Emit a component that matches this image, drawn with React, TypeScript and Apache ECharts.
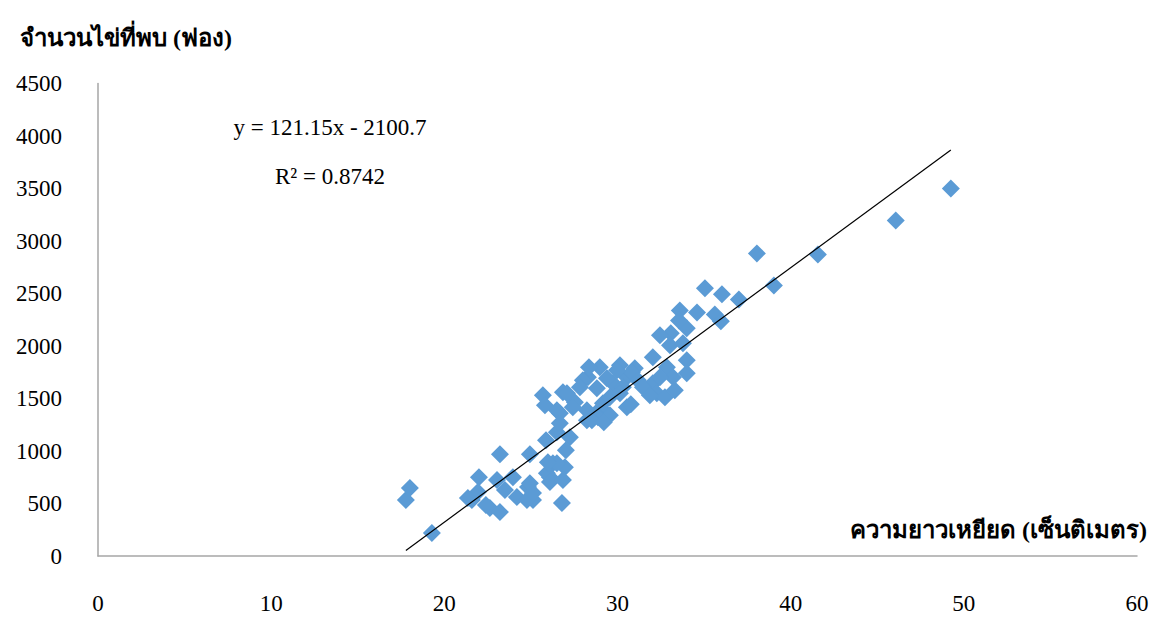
import React, { useEffect, useRef } from "react";
import * as echarts from "echarts";

// Body length (cm) of each specimen
const lengthCm = [
  49.25, 46.07, 41.57, 38.05, 39.03, 37.01, 35.05, 36.03, 35.62, 35.97,
  34.59, 33.6, 34.0, 33.55, 33.08, 32.45, 33.03, 32.04, 34.0, 32.85,
  31.0, 30.54, 34.0, 33.2, 32.04, 32.27, 33.78, 32.45, 32.74, 28.98,
  30.14, 30.83, 28.29, 26.85, 27.54, 29.73, 31.18, 30.54, 29.16, 28.23,
  26.67, 25.69, 25.81, 28.0, 27.42, 28.75, 29.56, 29.16, 26.5, 25.87,
  27.25, 24.94, 27.02, 26.27, 26.96, 26.1, 24.83, 26.79, 25.12, 23.21,
  22.0, 23.04, 21.59, 21.94, 22.63, 23.21, 23.96, 23.5, 24.19, 24.94,
  24.77, 25.12, 25.92, 26.1, 26.5, 26.85, 25.98, 22.4, 17.78, 18.01,
  19.28, 21.36, 29.97, 29.39, 31.47, 30.31, 27.83, 28.81, 29.56, 27.08,
  26.5, 28.23, 28.87, 26.67, 28.52, 29.21, 28.35, 30.14, 31.87, 33.31,
  30.77,
];

// Number of eggs found for each specimen
const eggCount = [
  3500, 3195, 2872, 2882, 2577, 2444, 2549, 2492, 2301, 2235,
  2320, 2339, 2168, 2244, 2121, 2102, 2007, 1892, 1864, 1797,
  1788, 1702, 1740, 1702, 1645, 1550, 2026, 1702, 1512, 1797,
  1816, 1750, 1702, 1560, 1465, 1645, 1674, 1417, 1388, 1293,
  1360, 1531, 1436, 1674, 1417, 1360, 1341, 1455, 1179, 1103,
  1132, 970, 1008, 884, 846, 751, 656, 504, 533, 970,
  751, 723, 533, 609, 456, 418, 751, 628, 561, 694,
  533, 599, 789, 704, 884, 723, 894, 485, 533, 647,
  219, 552, 1769, 1693, 1607, 1607, 1607, 1598, 1512, 1550,
  1388, 1388, 1322, 1265, 1293, 1274, 1797, 1550, 1531, 1579,
  1446,
];

// Linear trend: y = slope * x + intercept
const slope = 121.15;
const intercept = -2100.7;
const rSquared = "0.8742";

const xTicks = { min: 0, max: 60, interval: 10 };
const yTicks = { min: 0, max: 4500, interval: 500 };

const yTitle = "จำนวนไข่ที่พบ (ฟอง)";
const xTitle = "ความยาวเหยียด (เซ็นติเมตร)";

export default function App() {
  const ref = useRef<HTMLDivElement>(null);

  useEffect(() => {
    if (!ref.current) return;
    const chart = echarts.init(ref.current, null, { renderer: "svg" });

    const points = lengthCm.map((x, i) => [x, eggCount[i]]);
    const xMin = Math.min(...lengthCm);
    const xMax = Math.max(...lengthCm);
    const trend = [
      [xMin, slope * xMin + intercept],
      [xMax, slope * xMax + intercept],
    ];

    const serif = "'Liberation Serif', 'Times New Roman', serif";
    const axisLine = { show: true, lineStyle: { color: "#a6a6a6", width: 1.5 } };
    const plain = (v: number) => String(v);

    chart.setOption({
      animation: false,
      backgroundColor: "#ffffff",
      grid: { left: 98, right: 15, top: 83.5, bottom: 62, outerBoundsMode: "none" },
      xAxis: {
        type: "value",
        min: xTicks.min,
        max: xTicks.max,
        interval: xTicks.interval,
        axisLine,
        axisTick: { show: false },
        splitLine: { show: false },
        axisLabel: {
          color: "#000",
          fontFamily: serif,
          fontSize: 23,
          margin: 36,
          formatter: plain,
        },
      },
      yAxis: {
        type: "value",
        min: yTicks.min,
        max: yTicks.max,
        interval: yTicks.interval,
        axisLine,
        axisTick: { show: false },
        splitLine: { show: false },
        axisLabel: {
          color: "#000",
          fontFamily: serif,
          fontSize: 23,
          margin: 36,
          formatter: plain,
        },
      },
      series: [
        {
          type: "scatter",
          data: points,
          symbol: "diamond",
          symbolSize: 18,
          itemStyle: { color: "#5b9bd5", opacity: 1 },
          z: 2,
        },
        {
          type: "line",
          data: trend,
          showSymbol: false,
          symbol: "none",
          lineStyle: { color: "#000", width: 1.2 },
          z: 3,
        },
      ],
      graphic: [
        {
          type: "text",
          left: 20,
          top: 26,
          style: {
            text: yTitle,
            font: `bold 24px ${serif}`,
            fill: "#000",
          },
        },
        {
          type: "text",
          right: 5,
          top: 518,
          style: {
            text: xTitle,
            font: `bold 24px ${serif}`,
            fill: "#000",
          },
        },
        {
          type: "text",
          x: 330,
          y: 127,
          style: {
            text: `y = ${slope}x - ${Math.abs(intercept)}`,
            font: `23px ${serif}`,
            fill: "#000",
            align: "center",
            verticalAlign: "middle",
          },
        },
        {
          type: "text",
          x: 330,
          y: 176,
          style: {
            text: `R² = ${rSquared}`,
            font: `23px ${serif}`,
            fill: "#000",
            align: "center",
            verticalAlign: "middle",
          },
        },
      ],
    });

    return () => chart.dispose();
  }, []);

  return (
    <div
      ref={ref}
      style={{ position: "fixed", left: 0, top: 0, width: 1152, height: 618 }}
    />
  );
}
